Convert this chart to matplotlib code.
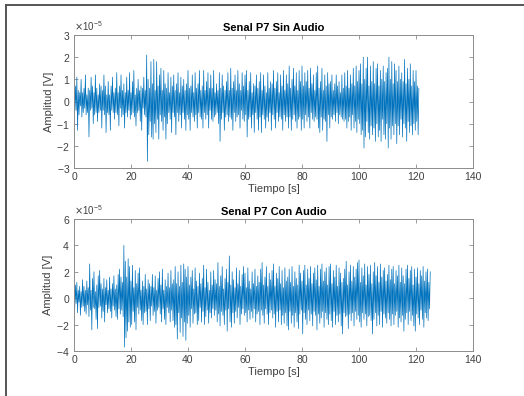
import numpy as np
import matplotlib
matplotlib.use("Agg")
import matplotlib.pyplot as plt
from matplotlib.lines import Line2D
from matplotlib.ticker import ScalarFormatter

plt.rcParams['font.family'] = ['Liberation Sans', 'DejaVu Sans']

# Sampling step of the hand-read traces (seconds)
dt = 0.25

# "Senal P7 Sin Audio" trace, in microvolts (1e-6 V)
sin_audio_uv = [
    3, -5, 7, -4, 11, -13, 5, -6, 4, -2, 10, -7, 4, -5, 6, -3, 12, -6, 3, -5,
    6, -16, 5, -4, 11, -3, 7, -10, 4, -6, 12, -5, 6, -9, 3, -5, 8, -4, 7, -12,
    5, -4, 12, -6, 7, -14, 3, -5, 9, -6, 3, -13, 7, -4, 11, -5, 4, -8, 6, -5,
    13, -6, 4, -11, 7, -3, 12, -7, 5, -6, 8, -12, 4, -5, 11, -7, 5, -4, 13, -8,
    4, -6, 9, -5, 14, -7, 3, -11, 6, -5, 10, -4, 5, -9, 7, -13, 6, -3, 11, -6,
    5, -7, 21, -27, 10, -15, 6, -9, 18, -16, 8, -17, 19, -10, 5, -14, 18, -8, 7, -17,
    12, -6, 15, -9, 5, -13, 14, -7, 8, -17, 6, -10, 13, -5, 4, -8, 11, -14, 7, -5,
    12, -7, 5, -15, 8, -5, 13, -9, 4, -6, 11, -12, 7, -5, 10, -8, 5, -13, 8, -6,
    14, -8, 6, -13, 7, -5, 12, -7, 4, -9, 13, -6, 6, -12, 8, -5, 14, -7, 5, -8,
    7, -12, 14, -5, 5, -8, 9, -6, 13, -12, 6, -4, 12, -8, 6, -9, 14, -7, 4, -6,
    8, -5, 5, -10, 13, -18, 6, -8, 12, -5, 7, -13, 5, -7, 9, -6, 13, -9, 5, -7,
    15, -8, 6, -13, 9, -5, 12, -9, 5, -7, 14, -6, 8, -12, 5, -4, 13, -8, 7, -9,
    12, -6, 14, -16, 5, -8, 9, -7, 13, -12, 4, -6, 8, -14, 7, -5, 12, -8, 6, -13,
    9, -7, 13, -14, 5, -6, 12, -8, 7, -12, 4, -7, 13, -9, 6, -5, 9, -13, 8, -6,
    14, -8, 6, -12, 9, -5, 13, -9, 4, -7, 12, -8, 7, -13, 14, -6, 5, -9, 12, -7,
    8, -12, 16, -7, 6, -13, 10, -8, 15, -6, 7, -9, 13, -12, 5, -8, 14, -7, 9, -13,
    16, -8, 7, -12, 13, -6, 9, -9, 14, -7, 6, -12, 15, -5, 8, -8, 12, -9, 5, -7,
    13, -8, 16, -12, 6, -14, 9, -7, 15, -13, 5, -8, 12, -9, 7, -18, 13, -6, 8, -12,
    9, -7, 12, -8, 5, -6, 8, -9, 12, -5, 7, -10, 9, -6, 4, -7, 12, -8, 6, -9,
    13, -8, 7, -12, 14, -9, 6, -7, 12, -13, 8, -6, 15, -12, 7, -9, 16, -14, 9, -8,
    14, -10, 17, -15, 8, -13, 20, -21, 10, -16, 15, -9, 20, -14, 7, -17, 16, -11, 9, -15,
    18, -12, 8, -18, 15, -10, 17, -16, 7, -13, 14, -18, 10, -8, 16, -15, 9, -17, 13, -10,
    15, -21, 20, -12, 10, -17, 18, -11, 8, -15, 17, -10, 14, -19, 9, -11, 16, -15, 10, -8,
    13, -16, 9, -10, 19, -12, 8, -18, 15, -9, 10, -14, 17, -11, 7, -15, 14, -10, 9, -13,
    14, -9, 7, -15, 6,
]

# "Senal P7 Con Audio" trace, in microvolts (1e-6 V)
con_audio_uv = [
    5, -8, 10, -4, 12, -11, 6, -3, 9, -13, 5, -7, 14, -6, 9, -10, 6, -12, 13, -5,
    8, -14, 26, -9, 6, -24, 15, -7, 20, -8, 5, -16, 10, -23, 17, -7, 21, -6, 11, -15,
    7, -10, 15, -18, 8, -5, 14, -11, 6, -8, 16, -10, 7, -15, 11, -6, 17, -9, 7, -14,
    10, -16, 18, -8, 22, -12, 16, -9, 12, -14, 40, -37, 28, -30, 16, -25, 30, -18, 24, -22,
    13, -20, 25, -10, 8, -18, 21, -24, 11, -7, 19, -12, 23, -9, 6, -17, 13, -20, 9, -11,
    18, -10, 7, -20, 14, -8, 11, -17, 9, -6, 18, -13, 8, -10, 17, -19, 6, -9, 15, -7,
    20, -12, 10, -18, 22, -8, 6, -16, 14, -20, 9, -7, 19, -11, 8, -18, 21, -9, 11, -17,
    14, -22, 24, -20, 11, -31, 20, -11, 9, -26, 25, -15, 12, -29, 26, -18, 22, -32, 16, -19,
    24, -13, 10, -22, 16, -8, 21, -19, 7, -12, 23, -11, 13, -20, 9, -17, 19, -7, 11, -18,
    15, -10, 25, -20, 8, -14, 22, -9, 12, -19, 6, -11, 20, -15, 10, -8, 21, -13, 14, -9,
    11, -18, 27, -12, 9, -21, 17, -10, 24, -13, 7, -20, 15, -9, 22, -25, 12, -8, 32, -18,
    10, -22, 20, -11, 14, -19, 8, -10, 23, -15, 11, -7, 21, -20, 9, -12, 18, -8, 24, -13,
    19, -11, 8, -18, 23, -9, 13, -16, 7, -10, 20, -15, 11, -8, 22, -18, 9, -12, 17, -10,
    12, -20, 22, -9, 27, -13, 10, -19, 16, -8, 24, -12, 9, -20, 19, -11, 14, -9, 21, -15,
    26, -12, 9, -22, 19, -10, 15, -18, 24, -9, 11, -20, 21, -13, 8, -19, 23, -11, 13, -21,
    16, -24, 22, -10, 12, -19, 24, -13, 9, -22, 20, -11, 15, -18, 10, -23, 25, -12, 19, -9,
    13, -27, 21, -11, 25, -16, 10, -20, 22, -9, 15, -17, 24, -12, 11, -21, 19, -10, 23, -13,
    14, -24, 25, -12, 9, -19, 22, -15, 26, -10, 13, -22, 20, -11, 23, -16, 10, -20, 24, -12,
    26, -17, 11, -22, 21, -10, 16, -20, 25, -13, 9, -18, 23, -12, 19, -21, 12, -27, 15, -11,
    22, -14, 28, -13, 10, -23, 20, -12, 25, -17, 13, -11, 24, -21, 16, -10, 22, -16, 27, -13,
    29, -18, 12, -22, 23, -11, 17, -16, 26, -12, 10, -21, 24, -14, 18, -13, 25, -17, 11, -27,
    20, -16, 27, -11, 17, -21, 24, -13, 12, -20, 26, -10, 16, -22, 21, -12, 23, -15, 13, -19,
    18, -11, 25, -16, 14, -21, 22, -12, 24, -20, 11, -13, 21, -10, 17, -22, 25, -15, 12, -18,
    23, -13, 17, -25, 11, -16, 22, -11, 25, -20, 15, -10, 21, -17, 24, -13, 10, -21, 22, -25,
    16, -12, 23, -15, 11, -20, 21, -9, 17, -16, 24, -22, 13, -11, 20, -15, 22, -17, 12, -8,
    20,
]

titles = ["Senal P7 Sin Audio", "Senal P7 Con Audio"]
xlabel = "Tiempo [s]"
ylabel = "Amplitud [V]"
xticks = [0, 20, 40, 60, 80, 100, 120, 140]
yticks_top = [-3e-5, -2e-5, -1e-5, 0, 1e-5, 2e-5, 3e-5]
yticks_bot = [-4e-5, -2e-5, 0, 2e-5, 4e-5, 6e-5]

W, H = 524, 396
fig = plt.figure(figsize=(W / 100, H / 100), dpi=100)

line_color = "#0072BD"
axis_color = "#8c8c8c"
text_color = "#404040"

def make_ax(rect, t, y, title, yticks, ylim):
    ax = fig.add_axes(rect)
    ax.plot(t, y, color=line_color, lw=0.5)
    ax.set_xlim(0, 140)
    ax.set_ylim(*ylim)
    ax.set_xticks(xticks)
    ax.set_yticks(yticks)
    fmt = ScalarFormatter(useMathText=True)
    fmt.set_powerlimits((0, 0))
    ax.yaxis.set_major_formatter(fmt)
    ax.yaxis.get_offset_text().set_fontsize(7)
    ax.yaxis.get_offset_text().set_color(text_color)
    ax.tick_params(direction="in", length=3, width=0.6, colors=axis_color,
                   labelcolor=text_color, labelsize=7.5,
                   top=True, right=True, pad=3)
    for s in ax.spines.values():
        s.set_color(axis_color)
        s.set_linewidth(0.7)
    ax.set_title(title, fontsize=8, fontweight="bold", pad=3)
    ax.set_xlabel(xlabel, fontsize=8, color=text_color, labelpad=1)
    ax.set_ylabel(ylabel, fontsize=8, color=text_color, labelpad=2)
    return ax

t1 = np.arange(len(sin_audio_uv)) * dt
y1 = np.array(sin_audio_uv) * 1e-6
t2 = np.arange(len(con_audio_uv)) * dt
y2 = np.array(con_audio_uv) * 1e-6

left = 74 / W
width = (473 - 74) / W
make_ax([left, 1 - 168 / H, width, (168 - 35) / H], t1, y1, titles[0], yticks_top, (-3e-5, 3e-5))
make_ax([left, 1 - 351 / H, width, (351 - 219) / H], t2, y2, titles[1], yticks_bot, (-4e-5, 6e-5))

# screenshot frame (top and left edges)
fig.add_artist(Line2D([6 / W, 1.0], [1 - 5 / H, 1 - 5 / H], transform=fig.transFigure,
                      color="#555555", lw=1.4))
fig.add_artist(Line2D([6 / W, 6 / W], [0, 1 - 5 / H], transform=fig.transFigure,
                      color="#555555", lw=1.4))

fig.savefig("out.png", dpi=100)
